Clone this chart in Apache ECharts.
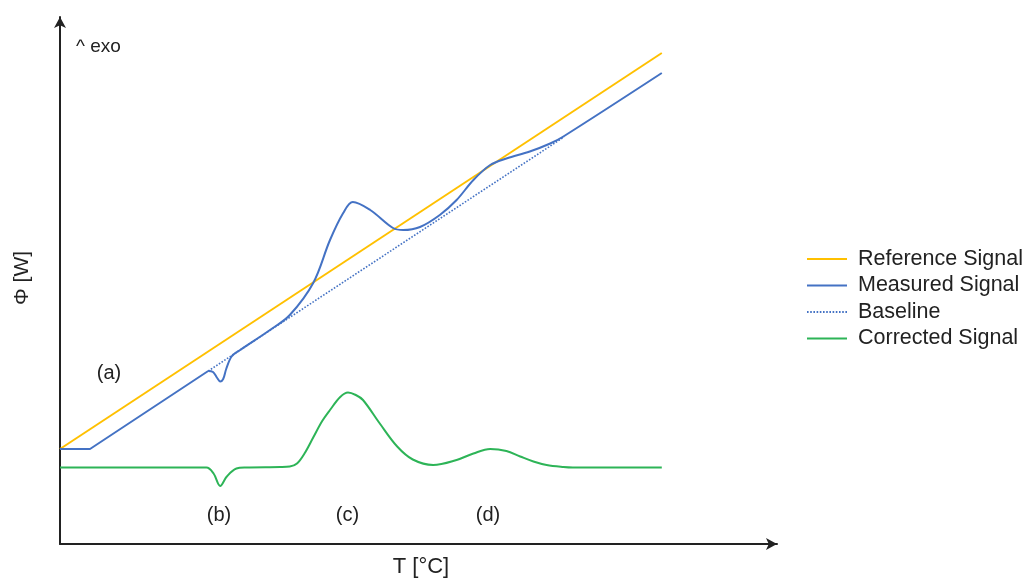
<!DOCTYPE html>
<html>
<head>
<meta charset="utf-8">
<script src="https://cdn.jsdelivr.net/npm/echarts@6/dist/echarts.min.js"></script>
<style>
  html, body { margin: 0; padding: 0; background: #ffffff; }
  #chart { width: 1027px; height: 584px; }
</style>
</head>
<body>
<div id="chart"></div>
<script>
// DSC schematic: heat flow Φ against temperature T (arbitrary units)
const seriesNames = ['Reference Signal', 'Measured Signal', 'Baseline', 'Corrected Signal'];

const referenceSignal = [[0, 19], [100.3, 98.2]];

// straight start-up ramp of the measured signal
const measuredRamp = [[0, 19], [5, 19], [24.7, 34.6]];

// curved part of the measured signal, with the three thermal events
const measuredSignal = [
  [24.7, 34.6], [25.5, 34.4], [26.2, 33.2], [26.7, 32.5],
  [27.2, 33.0], [27.7, 35.0], [28.6, 37.5], [29.9, 38.7], [35, 42.8],
  [38.3, 45.8], [42.2, 52.2], [45, 60.8], [47.2, 66.2], [48.8, 68.4],
  [51.7, 66.8], [55.5, 63.2], [57.2, 62.8], [60, 63.4], [63.3, 65.8],
  [66.1, 68.8], [68.9, 72.8], [71.7, 75.8], [74.4, 77.1],
  [78.3, 78.5], [81.7, 80.1], [83.9, 81.5], [100.3, 94.2]
];

const baseline = [[24.7, 34.6], [84, 81.4]];

const correctedSignal = [
  [0, 15.3], [24.4, 15.3], [25.6, 14.1], [26.7, 11.6], [27.8, 13.5],
  [29.4, 15.1], [31, 15.3], [36.7, 15.4], [38.3, 15.5], [39.5, 16.1],
  [40.8, 18.2], [42.2, 21.3], [43.7, 24.6], [45, 26.8], [46.7, 29.4],
  [48, 30.3], [49.3, 29.8], [50.5, 28.8], [53.3, 24.1], [56.2, 19.5],
  [58.8, 16.9], [62.2, 15.8], [66.1, 16.8], [68.9, 18.1], [71.7, 19.0],
  [74.4, 18.6], [76.7, 17.5], [78.9, 16.5], [81.1, 15.8], [83.9, 15.4],
  [85.5, 15.3], [100.3, 15.3]
];

const peakLabels = ['(a)', '(b)', '(c)', '(d)'];

const colors = {
  reference: '#FFC000',
  measured: '#4472C4',
  corrected: '#2DB457',
  axis: '#222222',
  text: '#222222'
};

const chart = echarts.init(document.getElementById('chart'), null, { renderer: 'canvas' });

const textFont = 'Liberation Sans, Arial, Helvetica, sans-serif';

function lineSeries(name, data, color, opts) {
  return Object.assign({
    name: name,
    type: 'line',
    data: data,
    symbol: 'none',
    smooth: 0.35,
    lineStyle: { color: color, width: 2 },
    itemStyle: { color: color },
    emphasis: { disabled: true },
    animation: false
  }, opts || {});
}

function label(text, x, y, size) {
  return { type: 'text', x: x, y: y,
    style: { text: text, font: size + 'px ' + textFont, fill: colors.text,
      align: 'center', verticalAlign: 'middle' } };
}

const option = {
  backgroundColor: '#ffffff',
  animation: false,
  grid: { left: 60, right: 250, top: 17, bottom: 40, containLabel: false },
  xAxis: {
    type: 'value', min: 0, max: 119.5,
    axisLine: { show: true, symbol: ['none', 'arrow'], symbolSize: [9, 11],
      lineStyle: { color: colors.axis, width: 2 } },
    axisTick: { show: false }, axisLabel: { show: false }, splitLine: { show: false }
  },
  yAxis: {
    type: 'value', min: 0, max: 105.4,
    axisLine: { show: true, symbol: ['none', 'arrow'], symbolSize: [9, 11],
      lineStyle: { color: colors.axis, width: 2 } },
    axisTick: { show: false }, axisLabel: { show: false }, splitLine: { show: false }
  },
  legend: {
    orient: 'vertical',
    left: 801, top: 243,
    itemWidth: 40, itemHeight: 14, itemGap: 4.5,
    data: seriesNames,
    itemStyle: { opacity: 0 },
    textStyle: { fontFamily: textFont, fontSize: 21.5, lineHeight: 22, color: colors.text,
      padding: [0, 0, 0, 6] },
    selectedMode: false
  },
  graphic: [
    { type: 'text', left: 76, top: 37, style: { text: '^ exo', font: '19px ' + textFont, fill: colors.text } },
    { type: 'text', x: 22, y: 278, rotation: Math.PI / 2,
      style: { text: 'Φ [W]', font: '21px ' + textFont, fill: colors.text, align: 'center', verticalAlign: 'middle' } },
    label('T [°C]', 421, 567, 22),
    label(peakLabels[0], 109, 373, 20),
    label(peakLabels[1], 219, 515, 20),
    label(peakLabels[2], 347.5, 515, 20),
    label(peakLabels[3], 488, 515, 20)
  ],
  series: [
    lineSeries(seriesNames[0], referenceSignal, colors.reference, { smooth: false }),
    lineSeries(seriesNames[1], measuredRamp, colors.measured, { smooth: false }),
    lineSeries(seriesNames[1], measuredSignal, colors.measured),
    lineSeries(seriesNames[2], baseline, colors.measured, {
      smooth: false,
      lineStyle: { color: colors.measured, width: 1.6, type: [1.6, 1.6] }
    }),
    lineSeries(seriesNames[3], correctedSignal, colors.corrected)
  ]
};

chart.setOption(option);
</script>
</body>
</html>
